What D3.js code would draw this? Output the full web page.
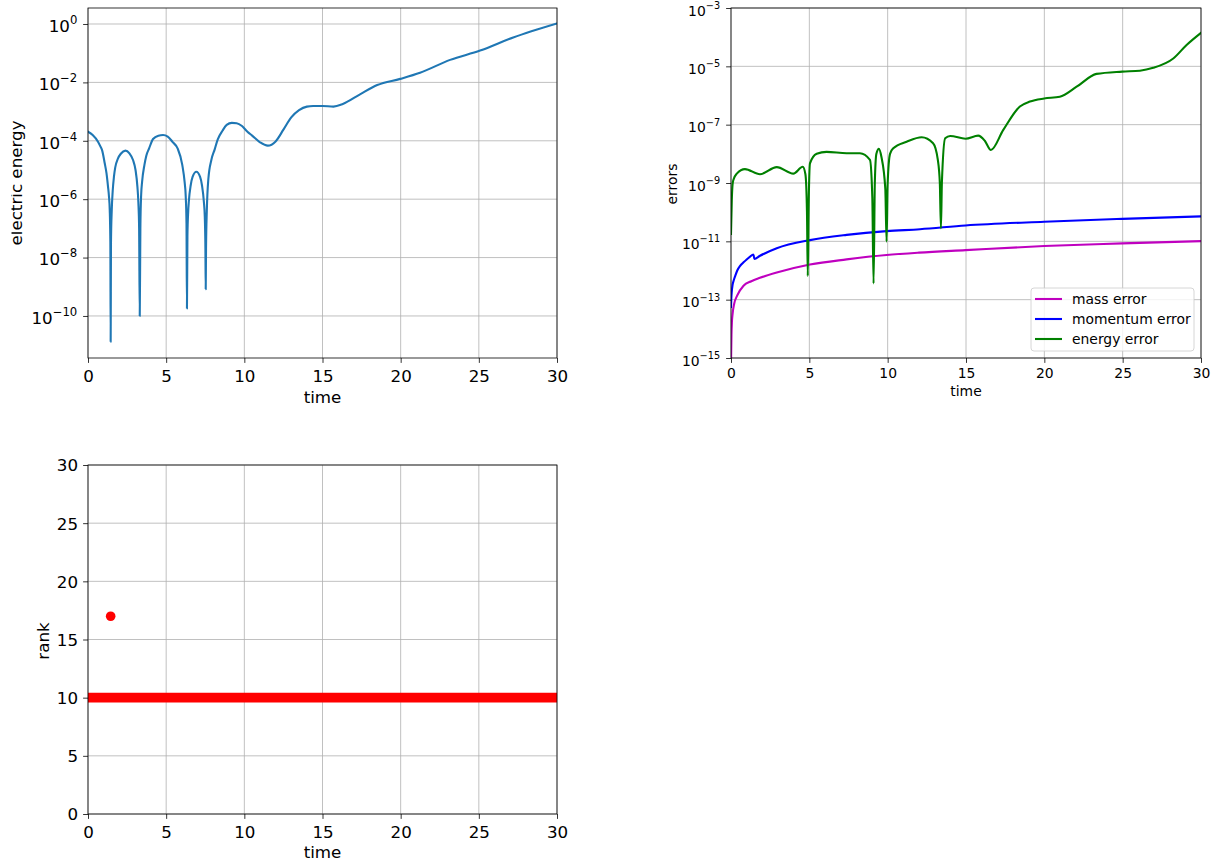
<!DOCTYPE html>
<html><head><meta charset="utf-8">
<script src="https://cdn.jsdelivr.net/npm/d3@7"></script>
<style>
body{margin:0;background:#fff}
svg{display:block}
text{font-family:"DejaVu Sans",sans-serif;fill:#000}
</style></head><body>
<svg id="c" width="1212" height="865"></svg>
<script>
// ---------- data ----------
const xTicks = [0, 5, 10, 15, 20, 25, 30];

// electric energy vs time
const eeTime  = [0, 0.3, 0.64, 0.8, 0.9, 1.07, 1.18, 1.28, 1.34, 1.39, 1.43, 1.45, 1.47, 1.52, 1.58, 1.66, 1.74, 1.92, 2.1, 2.39, 2.65, 2.88, 3.04, 3.16, 3.22, 3.27, 3.31, 3.35, 3.40, 3.46, 3.61, 3.73, 3.91, 4.16, 4.5, 4.8, 5.1, 5.42, 5.73, 6.03, 6.18, 6.25, 6.30, 6.33, 6.36, 6.41, 6.45, 6.57, 6.69, 6.93, 7.17, 7.29, 7.41, 7.47, 7.51, 7.53, 7.55, 7.60, 7.7, 7.89, 8.1, 8.3, 8.6, 8.87, 9.2, 9.51, 9.85, 10.2, 10.5, 11.0, 11.5, 12.0, 12.5, 13.0, 13.5, 14.0, 14.4, 15.0, 15.7, 16.3, 17.4, 18.5, 19.97, 21.24, 23.16, 25.08, 27.2, 30];
const eeValue = [2.04e-4, 1.58e-4, 9.3e-5, 6.3e-5, 4.8e-5, 1.7e-5, 7.9e-6, 2.7e-6, 1.26e-6, 4.3e-7, 3.2e-8, 1.3e-11, 3.2e-8, 4.3e-7, 1.9e-6, 5.9e-6, 1.2e-5, 2.5e-5, 3.6e-5, 4.6e-5, 3.7e-5, 2.2e-5, 1.0e-5, 2.7e-6, 8.0e-7, 1.0e-7, 1.0e-10, 1.0e-7, 1.4e-6, 3.9e-6, 1.5e-5, 3.1e-5, 5.5e-5, 1.15e-4, 1.5e-4, 1.58e-4, 1.4e-4, 9.0e-5, 5.5e-5, 1.5e-5, 3.9e-6, 1.3e-6, 1.5e-7, 1.8e-10, 5.4e-8, 3.8e-7, 8.3e-7, 3.0e-6, 5.8e-6, 8.7e-6, 5.8e-6, 3.0e-6, 8.3e-7, 2.5e-7, 2.0e-8, 8.3e-10, 2.0e-8, 4.0e-7, 5.0e-6, 2.2e-5, 5.0e-5, 1.12e-4, 2.2e-4, 3.5e-4, 4.1e-4, 4.0e-4, 3.2e-4, 2.04e-4, 1.5e-4, 8.9e-5, 6.8e-5, 9.5e-5, 2.4e-4, 6.3e-4, 1.12e-3, 1.48e-3, 1.55e-3, 1.55e-3, 1.48e-3, 1.82e-3, 3.9e-3, 8.1e-3, 1.32e-2, 2.14e-2, 5.9e-2, 0.123, 0.347, 1.05];
const eeYTickExp = [0, -2, -4, -6, -8, -10];

// conservation errors
const massTime = [0, 0.03, 0.06, 0.1, 0.2, 0.4, 0.8, 1.3, 1.85, 2.92, 5.04, 7.38, 9.93, 12.0, 14.97, 19.99, 24.97, 30];
const massErr  = [6e-16, 6.3e-15, 1.78e-14, 3.2e-14, 7.1e-14, 1.4e-13, 3.0e-13, 4.3e-13, 5.6e-13, 8.5e-13, 1.6e-12, 2.4e-12, 3.4e-12, 4.1e-12, 5.0e-12, 6.9e-12, 8.5e-12, 1.02e-11];
const momTime  = [0, 0.02, 0.05, 0.1, 0.18, 0.26, 0.4, 0.57, 0.8, 1.0, 1.2, 1.43, 1.49, 1.85, 2.92, 5.04, 7.38, 9.93, 12.06, 14.97, 19.99, 24.97, 30];
const momErr   = [5.6e-14, 1.12e-13, 1.9e-13, 3.2e-13, 4.7e-13, 6.3e-13, 1.0e-12, 1.41e-12, 1.9e-12, 2.4e-12, 2.95e-12, 3.55e-12, 2.5e-12, 3.2e-12, 5.8e-12, 1.1e-11, 1.66e-11, 2.24e-11, 2.6e-11, 3.5e-11, 4.7e-11, 5.9e-11, 7.2e-11];
const enTime   = [0, 0.05, 0.1, 0.15, 0.37, 0.89, 1.85, 2.92, 3.98, 4.58, 4.75, 4.85, 4.9, 4.95, 5.04, 5.47, 6.1, 7.38, 8.23, 8.87, 9.02, 9.1, 9.18, 9.28, 9.44, 9.6, 9.85, 9.93, 10.0, 10.15, 10.36, 11.21, 12.17, 12.9, 13.2, 13.33, 13.4, 13.46, 13.67, 13.99, 14.97, 15.78, 16.2, 16.59, 17.38, 18.44, 19.08, 19.99, 20.99, 22.06, 23.33, 24.97, 26.1, 26.95, 28.23, 29.08, 30];
const enErr    = [1.8e-11, 2.5e-10, 8.9e-10, 1.26e-9, 2.1e-9, 3.0e-9, 2.0e-9, 3.5e-9, 2.1e-9, 3.6e-9, 2.0e-9, 1.0e-10, 6.5e-13, 1.0e-10, 4.7e-9, 1.0e-8, 1.17e-8, 1.05e-8, 1.05e-8, 6.2e-9, 3.2e-10, 3.6e-13, 1.0e-9, 1.0e-8, 1.48e-8, 7.9e-9, 6.3e-10, 9.8e-12, 1.0e-9, 1.0e-8, 1.55e-8, 2.6e-8, 3.7e-8, 2.3e-8, 6.3e-9, 1.0e-9, 2.8e-11, 1.0e-9, 3.4e-8, 4.1e-8, 3.3e-8, 4.2e-8, 2.8e-8, 1.35e-8, 6.6e-8, 4.2e-7, 6.2e-7, 7.9e-7, 9.1e-7, 2.0e-6, 5.5e-6, 6.6e-6, 7.1e-6, 8.9e-6, 1.86e-5, 5.4e-5, 1.41e-4];
const errYTickExp = [-3, -5, -7, -9, -11, -13, -15];
const legendLabels = ["mass error", "momentum error", "energy error"];

// rank vs time
const rankBandTime = [0, 30];
const rankBandValue = [10, 10];
const rankOutTime = [1.45];
const rankOutValue = [17];
const rankYTicks = [0, 5, 10, 15, 20, 25, 30];

// ---------- drawing ----------
const svg = d3.select('#c');
const FONT = '"DejaVu Sans", sans-serif';
const GRID = '#b0b0b0';

function supText(sel, exp, fs) {
  sel.text(null);
  sel.append('tspan').text('10');
  sel.append('tspan').attr('dy', -0.48 * fs).attr('font-size', fs * 0.7)
    .text(exp < 0 ? '\u2212' + (-exp) : String(exp));
}

function panel(cfg) {
  const {name, x, y, xl, xr, yt, yb, fs, yTickVals, yIsLog, xpad, ypad, ydy} = cfg;
  const g = svg.append('g');
  svg.append('clipPath').attr('id', 'clip' + name).append('rect')
    .attr('x', xl).attr('y', yt).attr('width', xr - xl).attr('height', yb - yt);
  g.append('g').selectAll('line').data(xTicks).join('line')
    .attr('x1', d => x(d)).attr('x2', d => x(d)).attr('y1', yt).attr('y2', yb)
    .attr('stroke', GRID).attr('stroke-width', 0.8);
  g.append('g').selectAll('line').data(yTickVals).join('line')
    .attr('y1', d => y(d)).attr('y2', d => y(d)).attr('x1', xl).attr('x2', xr)
    .attr('stroke', GRID).attr('stroke-width', 0.8);
  const ax = g.append('g').attr('transform', `translate(0,${yb})`)
    .call(d3.axisBottom(x).tickValues(xTicks).tickSize(4.9).tickPadding(xpad).tickFormat(d => d));
  ax.attr('font-size', fs).attr('font-family', FONT);
  ax.select('.domain').remove();
  ax.selectAll('line').attr('stroke', '#000').attr('stroke-width', 0.8);
  ax.selectAll('text').attr('fill', '#000');
  const ay = g.append('g').attr('transform', `translate(${xl},0)`)
    .call(d3.axisLeft(y).tickValues(yTickVals).tickSize(4.9).tickPadding(ypad).tickFormat(d => d));
  ay.attr('font-size', fs).attr('font-family', FONT);
  ay.select('.domain').remove();
  ay.selectAll('line').attr('stroke', '#000').attr('stroke-width', 0.8);
  ay.selectAll('text').attr('fill', '#000').attr('dy', ydy + 'em');
  if (yIsLog) {
    ay.selectAll('text').each(function(d) { supText(d3.select(this), Math.round(Math.log10(d)), fs); });
  }
  const data = g.append('g').attr('clip-path', `url(#clip${name})`);
  const frame = () => g.append('rect').attr('x', xl).attr('y', yt).attr('width', xr - xl).attr('height', yb - yt)
    .attr('fill', 'none').attr('stroke', '#000').attr('stroke-width', 0.8);
  return {g, data, frame};
}

function addLine(layer, x, y, ts, vs, color, w) {
  const pts = ts.map((t, i) => [t, vs[i]]);
  layer.append('path').datum(pts)
    .attr('d', d3.line().x(d => x(d[0])).y(d => y(d[1])).curve(d3.curveMonotoneX))
    .attr('fill', 'none').attr('stroke', color).attr('stroke-width', w)
    .attr('stroke-linejoin', 'round').attr('stroke-linecap', 'square');
}

// Panel 1: electric energy
{
  const xl = 88, xr = 557, yt = 8, yb = 358, fs = 16.7;
  const x = d3.scaleLinear().domain([0, 30]).range([xl, xr]);
  const y = d3.scaleLog().domain([Math.pow(10, -11.44), Math.pow(10, 0.548)]).range([yb, yt]);
  const p = panel({name: 'a', x, y, xl, xr, yt, yb, fs, yTickVals: eeYTickExp.map(e => Math.pow(10, e)), yIsLog: true, xpad: 7, ypad: 5.8, ydy: 0.44});
  addLine(p.data, x, y, eeTime, eeValue, '#1f77b4', 2.1);
  p.frame();
  svg.append('text').attr('x', (xl + xr) / 2).attr('y', 402.5).attr('text-anchor', 'middle').attr('font-size', fs).text('time');
  svg.append('clipPath').attr('id', 'cliplab').append('rect').attr('x', 11.5).attr('y', 0).attr('width', 60).attr('height', 400);
  svg.append('g').attr('clip-path', 'url(#cliplab)').append('text')
    .attr('transform', 'translate(22,183) rotate(-90)').attr('text-anchor', 'middle').attr('font-size', fs).text('electric energy');
}

// Panel 2: errors
{
  const xl = 731, xr = 1201, yt = 8, yb = 358, fs = 13.9;
  const x = d3.scaleLinear().domain([0, 30]).range([xl, xr]);
  const y = d3.scaleLog().domain([1e-15, 1e-3]).range([yb, yt]);
  const p = panel({name: 'b', x, y, xl, xr, yt, yb, fs, yTickVals: errYTickExp.map(e => Math.pow(10, e)), yIsLog: true, xpad: 5.5, ypad: 6, ydy: 0.52});
  const colors = ['#bf00bf', '#0000ff', '#008000'];
  addLine(p.data, x, y, massTime, massErr, colors[0], 2.1);
  addLine(p.data, x, y, momTime, momErr, colors[1], 2.1);
  addLine(p.data, x, y, enTime, enErr, colors[2], 2.1);
  p.frame();
  svg.append('text').attr('x', (xl + xr) / 2).attr('y', 396).attr('text-anchor', 'middle').attr('font-size', fs).text('time');
  svg.append('text').attr('transform', 'translate(677,184) rotate(-90)').attr('text-anchor', 'middle').attr('font-size', fs).text('errors');
  const lg = svg.append('g');
  lg.append('rect').attr('x', 1031).attr('y', 288).attr('width', 163).attr('height', 63).attr('rx', 3)
    .attr('fill', '#fff').attr('fill-opacity', 0.8).attr('stroke', '#cccccc').attr('stroke-width', 0.8);
  legendLabels.forEach((lab, i) => {
    const yy = 299 + i * 20;
    lg.append('line').attr('x1', 1035).attr('x2', 1062).attr('y1', yy).attr('y2', yy)
      .attr('stroke', colors[i]).attr('stroke-width', 2.1);
    lg.append('text').attr('x', 1072).attr('y', yy + 5).attr('font-size', fs).text(lab);
  });
}

// Panel 3: rank
{
  const xl = 88, xr = 557, yt = 465, yb = 814, fs = 16.7;
  const x = d3.scaleLinear().domain([0, 30]).range([xl, xr]);
  const y = d3.scaleLinear().domain([0, 30]).range([yb, yt]);
  const p = panel({name: 'c', x, y, xl, xr, yt, yb, fs, yTickVals: rankYTicks, yIsLog: false, xpad: 7, ypad: 5.1, ydy: 0.35});
  p.data.append('path').datum(rankBandTime.map((t, i) => [t, rankBandValue[i]]))
    .attr('d', d3.line().x(d => x(d[0])).y(d => y(d[1])))
    .attr('stroke', '#ff0000').attr('stroke-width', 9.6).attr('fill', 'none');
  p.data.selectAll('circle').data(rankOutTime.map((t, i) => [t, rankOutValue[i]])).join('circle')
    .attr('cx', d => x(d[0])).attr('cy', d => y(d[1])).attr('r', 4.8).attr('fill', '#ff0000');
  p.frame();
  svg.append('text').attr('x', (xl + xr) / 2).attr('y', 858).attr('text-anchor', 'middle').attr('font-size', fs).text('time');
  svg.append('text').attr('transform', 'translate(49,641) rotate(-90)').attr('text-anchor', 'middle').attr('font-size', fs).text('rank');
}
</script>
</body></html>
